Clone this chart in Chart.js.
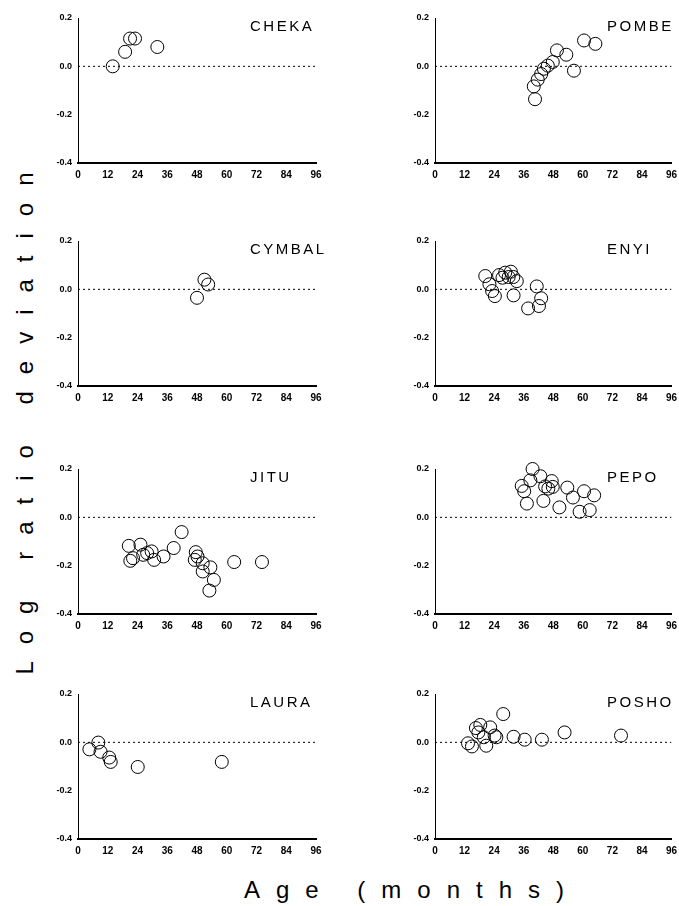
<!DOCTYPE html>
<html>
<head>
<meta charset="utf-8">
<script src="https://cdn.jsdelivr.net/npm/chart.js@4/dist/chart.umd.min.js"></script>
<style>
  html, body { margin: 0; padding: 0; background: #fff; }
  body { width: 679px; height: 906px; position: relative; overflow: hidden; font-family: "Liberation Sans", Arial, Helvetica, sans-serif; }
  canvas { position: absolute; }
  .axisTitle { position: absolute; white-space: nowrap; font-size: 24px; color: #000; }
</style>
</head>
<body>
<div class="axisTitle" id="yTitle">Log ratio deviation</div>
<div class="axisTitle" id="xTitle">Age (months)</div>

<script>
// Values (age in months, log ratio deviation)
const chekaAge = [14, 19, 21, 23, 32];
const chekaDev = [0.0, 0.06, 0.115, 0.115, 0.08];

const pombeAge = [40.6, 40.1, 41.7, 43.1, 44.2, 45.8, 47.8, 49.5, 53.3, 56.4, 60.5, 65.1];
const pombeDev = [-0.136, -0.083, -0.055, -0.032, -0.01, 0.003, 0.018, 0.066, 0.048, -0.018, 0.107, 0.093];

const cymbalAge = [48, 51, 52.5];
const cymbalDev = [-0.035, 0.04, 0.02];

const enyiAge = [20.4, 22.1, 23.2, 24.3, 26, 27.4, 28.5, 29.9, 30.8, 31.8, 33.2, 31.9, 37.8, 41.3, 43.1, 42.2];
const enyiDev = [0.055, 0.021, -0.007, -0.028, 0.059, 0.048, 0.069, 0.051, 0.073, 0.051, 0.034, -0.025, -0.079, 0.012, -0.037, -0.069];

const jituAge = [20.5, 21.1, 22.2, 25.2, 26.3, 27.9, 29.7, 30.7, 34.5, 38.6, 41.8, 47.5, 48.2, 47.1, 50.3, 50.3, 53.4, 54.8, 53, 63, 74.2];
const jituDev = [-0.118, -0.18, -0.169, -0.113, -0.155, -0.148, -0.141, -0.176, -0.162, -0.127, -0.061, -0.144, -0.162, -0.176, -0.19, -0.224, -0.207, -0.259, -0.303, -0.185, -0.185];

const pepoAge = [35.2, 36.2, 37.3, 38.7, 39.6, 42.8, 44, 44.7, 46, 47.4, 47.8, 50.5, 53.7, 56, 58.7, 60.5, 62.8, 64.6];
const pepoDev = [0.13, 0.108, 0.057, 0.153, 0.2, 0.17, 0.068, 0.128, 0.119, 0.15, 0.126, 0.041, 0.123, 0.082, 0.023, 0.108, 0.03, 0.091];

const lauraAge = [4.6, 8.2, 9.1, 12.6, 13.2, 24.1, 58];
const lauraDev = [-0.029, -0.001, -0.039, -0.063, -0.081, -0.102, -0.081];

const poshoAge = [13.4, 15, 16.6, 17.6, 18.4, 19.8, 20.8, 22.4, 24.2, 24.9, 27.7, 31.9, 36.4, 43.4, 52.6, 75.5];
const poshoDev = [-0.004, -0.017, 0.059, 0.041, 0.072, 0.021, -0.014, 0.062, 0.028, 0.021, 0.117, 0.023, 0.011, 0.011, 0.041, 0.028];

const panelNames = ["CHEKA", "POMBE", "CYMBAL", "ENYI", "JITU", "PEPO", "LAURA", "POSHO"];
const panelAges = [chekaAge, pombeAge, cymbalAge, enyiAge, jituAge, pepoAge, lauraAge, poshoAge];
const panelDevs = [chekaDev, pombeDev, cymbalDev, enyiDev, jituDev, pepoDev, lauraDev, poshoDev];

const xTicks = [0, 12, 24, 36, 48, 60, 72, 84, 96];
const yTicks = [-0.4, -0.2, 0.0, 0.2];
const zeroLineAge = [0, 96];
const zeroLineDev = [0, 0];

// layout of the 2 x 4 grid of panels: plot area is 238 x 145
const colLeft = [48, 405];
const colPadRight = [20, 6];
const rowTop = [10, 233, 461, 686];
const plotW = 238;
const plotH = 145;
const yAxisW = 30;
const xAxisH = 22;
const padTop = 8;
const fontFamily = '"Liberation Sans", Arial, Helvetica, sans-serif';

// Panel name in the top right of each plot
const panelLabel = {
    id: "panelLabel",
    afterDraw(chart, args, opts) {
        const ctx = chart.ctx;
        const area = chart.chartArea;
        ctx.save();
        ctx.font = "15px " + fontFamily;
        ctx.letterSpacing = "2.5px";
        ctx.fillStyle = "#000";
        ctx.textAlign = "left";
        ctx.textBaseline = "middle";
        ctx.fillText(opts.text, area.left + 172, area.top + 9);
        ctx.restore();
    }
};

function toPoints(xs, ys) {
    return xs.map((x, i) => ({ x: x, y: ys[i] }));
}

function makePanel(i) {
    const col = i % 2;
    const w = yAxisW + plotW + colPadRight[col];
    const h = padTop + plotH + xAxisH;
    const canvas = document.createElement("canvas");
    canvas.width = w;
    canvas.height = h;
    canvas.style.left = colLeft[col] + "px";
    canvas.style.top = rowTop[Math.floor(i / 2)] + "px";
    canvas.style.width = w + "px";
    canvas.style.height = h + "px";
    document.body.appendChild(canvas);

    new Chart(canvas.getContext("2d"), {
        type: "scatter",
        data: {
            datasets: [{
                type: "line",
                data: toPoints(zeroLineAge, zeroLineDev),
                borderColor: "#000",
                borderWidth: 1,
                borderDash: [2, 3],
                pointRadius: 0,
                fill: false
            }, {
                data: toPoints(panelAges[i], panelDevs[i]),
                pointRadius: 6.5,
                pointBorderWidth: 1,
                borderColor: "#000",
                backgroundColor: "rgba(0,0,0,0)",
                clip: false
            }]
        },
        options: {
            responsive: false,
            animation: false,
            layout: { padding: { top: padTop, right: colPadRight[col], bottom: 0, left: 0 } },
            plugins: {
                legend: { display: false },
                tooltip: { enabled: false },
                panelLabel: { text: panelNames[i] }
            },
            scales: {
                x: {
                    type: "linear",
                    min: 0,
                    max: 96,
                    afterBuildTicks: (s) => { s.ticks = xTicks.map(v => ({ value: v })); },
                    afterFit: (s) => { s.height = xAxisH; s.paddingLeft = 0; s.paddingRight = 0; },
                    grid: { display: false, drawTicks: false },
                    border: { display: true, color: "#000", width: 2 },
                    ticks: {
                        padding: 6,
                        color: "#000",
                        maxRotation: 0,
                        autoSkip: false,
                        font: { family: fontFamily, size: 10, weight: "bold" }
                    }
                },
                y: {
                    type: "linear",
                    min: -0.4,
                    max: 0.2,
                    afterBuildTicks: (s) => { s.ticks = yTicks.map(v => ({ value: v })); },
                    afterFit: (s) => { s.width = yAxisW; s.paddingTop = 0; s.paddingBottom = 0; },
                    grid: { display: false, drawTicks: false },
                    border: { display: true, color: "#000", width: 1 },
                    ticks: {
                        padding: 6,
                        color: "#000",
                        autoSkip: false,
                        font: { family: fontFamily, size: 9, weight: "bold" },
                        callback: (v) => v.toFixed(1)
                    }
                }
            }
        },
        plugins: [panelLabel]
    });
}

for (let i = 0; i < panelNames.length; i++) {
    makePanel(i);
}

// big axis titles, centred (trailing letter-spacing compensated)
const yTitle = document.getElementById("yTitle");
yTitle.style.letterSpacing = "17px";
yTitle.style.left = "25px";
yTitle.style.top = "415px";
yTitle.style.transform = "translate(-50%, -50%) rotate(-90deg)";

const xTitle = document.getElementById("xTitle");
xTitle.style.letterSpacing = "16px";
xTitle.style.left = "412px";
xTitle.style.top = "890px";
xTitle.style.transform = "translate(-50%, -50%)";
</script>
</body>
</html>
